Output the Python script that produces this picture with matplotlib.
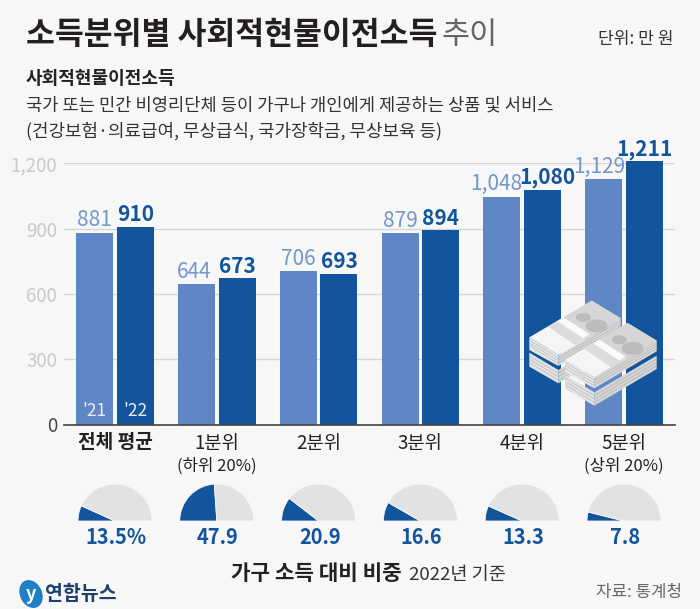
import matplotlib
matplotlib.use("Agg")
import matplotlib.pyplot as plt
from matplotlib.patches import Polygon, Ellipse

plt.rcParams['font.family'] = ['Noto Sans CJK KR', 'DejaVu Sans']

W, H = 700, 609
BG = '#f7f7f7'
C21 = '#5f87c6'
C22 = '#12559d'
GRAY = '#e2e2e2'

groups = ['전체 평균', '1분위', '2분위', '3분위', '4분위', '5분위']
subs = ['', '(하위 20%)', '', '', '', '(상위 20%)']
v21 = [881, 644, 706, 879, 1048, 1129]
v22 = [910, 673, 693, 894, 1080, 1211]
shares = [13.5, 47.9, 20.9, 16.6, 13.3, 7.8]
share_labels = ['13.5%', '47.9', '20.9', '16.6', '13.3', '7.8']
yticks = [0, 300, 600, 900, 1200]

# horizontal nudges of the value labels, in points
nudge21 = [0, -1.5, 0, 0, -4, -3.5]
nudge22 = [0, 0.5, 0, 0, 3.5, 0]

fig = plt.figure(figsize=(W / 100, H / 100), dpi=100, facecolor=BG)


def T(x, y, s, size, color='#222222', weight='regular', ha='left', va='center', **kw):
    return fig.text(x / W, 1 - y / H, s, fontsize=size, color=color, fontweight=weight,
                    ha=ha, va=va, **kw)


# main bars
ax = fig.add_axes([64 / W, 1 - 424.5 / H, (675 - 64) / W, (424.5 - 163.5) / H])
ax.set_facecolor('none')
ax.set_xlim(-0.5, 5.5)
ax.set_ylim(0, 1200)
xs = list(range(6))
ax.bar([x - 0.2 for x in xs], v21, width=0.363, color=C21, zorder=3, clip_on=False)
ax.bar([x + 0.2 for x in xs], v22, width=0.363, color=C22, zorder=3, clip_on=False)
ax.set_yticks(yticks)
ax.set_yticklabels([f'{t:,}' for t in yticks], fontsize=13.5, color='#c9c9c9', fontweight='light')
ax.get_yticklabels()[0].set_color('#444444')
ax.tick_params(axis='y', length=0, pad=5)
ax.tick_params(axis='x', length=0)
ax.set_xticks(xs)
ax.set_xticklabels([])
ax.grid(axis='y', color='#d6d6d6', lw=1, zorder=0)
for sp in ['top', 'left', 'right']:
    ax.spines[sp].set_visible(False)
ax.spines['bottom'].set_color('#444444')
ax.spines['bottom'].set_linewidth(1.2)
ax.spines['bottom'].set_zorder(5)

for x, a, b, na, nb in zip(xs, v21, v22, nudge21, nudge22):
    ax.annotate(f'{a:,}', (x - 0.2, a), xytext=(na, 1), textcoords='offset points', ha='center',
                va='bottom', fontsize=15, color='#7396cb', annotation_clip=False, zorder=6)
    ax.annotate(f'{b:,}', (x + 0.2, b), xytext=(nb, 1), textcoords='offset points', ha='center',
                va='bottom', fontsize=15, color=C22, fontweight='bold', annotation_clip=False, zorder=6)
ax.text(-0.2, 60, "'21", color='#e8eef8', fontsize=12.5, ha='center', va='center', zorder=6)
ax.text(0.2, 60, "'22", color='#e8eef8', fontsize=12.5, ha='center', va='center', zorder=6)

# group labels and half-pies
cx = [115 + 101.8 * i for i in range(6)]
for i, c in enumerate(cx):
    T(c, 443, groups[i], 13.8 if i == 0 else 13.5, weight='bold' if i == 0 else 'regular', ha='center')
    if subs[i]:
        T(c, 466, subs[i], 12, ha='center')
    R = 37
    pax = fig.add_axes([(c - R) / W, 1 - (521 + R) / H, 2 * R / W, 2 * R / H])
    wedges, _ = pax.pie([shares[i], 100 - shares[i], 100], startangle=180, counterclock=False,
                        colors=[C22, GRAY, 'none'], radius=1,
                        wedgeprops=dict(linewidth=0.6, edgecolor=BG))
    wedges[2].set_edgecolor('none')
    pax.set_xlim(-1, 1)
    pax.set_ylim(-1, 1)
    pax.set_zorder(2)
    T(c + 1, 538, share_labels[i], 14.4, color=C22, weight='bold', ha='center')

# overlay for the money icon and the logo
ov = fig.add_axes([0, 0, 1, 1], zorder=10)
ov.set_xlim(0, W)
ov.set_ylim(H, 0)
ov.axis('off')


def z(*pts):
    return [(500 + a / 3, 130 + b / 3) for a, b in pts]


def poly(pts, fc, zo=11):
    ov.add_patch(Polygon(z(*pts), closed=True, fc=fc, ec='none', zorder=zo))


def stack(ox, oy, zo):
    def p(*pts):
        return [(a + ox, b + oy) for a, b in pts]

    def stripes(a, b, n, top, bot, col):
        # thin paper-edge lines along a brick side between points a and b
        for k in range(1, n):
            f = k / n
            pts = z((a[0] + ox, a[1] + oy + top + (bot - top) * f), (b[0] + ox, b[1] + oy + top + (bot - top) * f))
            ov.plot([pts[0][0], pts[1][0]], [pts[0][1], pts[1][1]], color=col, lw=0.5, zorder=zo)

    # lower brick
    poly(p((88, 668), (175, 720), (175, 760), (88, 710)), '#e2e2e2', zo)
    poly(p((175, 720), (362, 610), (362, 650), (175, 760)), '#d4d4d4', zo)
    stripes((88, 668), (175, 720), 4, 0, 40, '#bcbcbc')
    stripes((175, 720), (362, 610), 4, 0, 40, '#b4b4b4')
    # upper brick sides
    poly(p((88, 622), (175, 675), (175, 708), (88, 660)), '#e6e6e6', zo)
    poly(p((175, 675), (362, 565), (362, 597), (175, 708)), '#d8d8d8', zo)
    stripes((88, 622), (175, 675), 4, 0, 34, '#bcbcbc')
    stripes((175, 675), (362, 565), 4, 0, 32, '#b4b4b4')
    # top face
    poly(p((88, 622), (275, 512), (362, 565), (175, 675)), '#f5f5f5', zo)
    poly(p((190, 562), (275, 512), (362, 565), (272, 617)), '#d6d6d6', zo)
    poly(p((145, 590), (190, 562), (272, 617), (225, 645)), '#dcdcdc', zo)
    poly(p((172, 573), (190, 562), (268, 612), (250, 625)), '#fbfbfb', zo)
    ov.add_patch(Ellipse(z((250 + ox, 562 + oy))[0], 15, 9, fc='#bcbcbc', ec='none', zorder=zo))
    ov.add_patch(Ellipse(z((290 + ox, 588 + oy))[0], 22, 13, fc='#bcbcbc', ec='none', zorder=zo))


stack(0, 0, 11)
stack(108, 67, 12)

# logo
ov.add_patch(Ellipse((31, 594), 22, 29, angle=-25, fc='#1f7fc4', ec='none', zorder=11))
ov.text(31, 594, 'y', color='white', fontsize=13, fontweight='bold', style='italic', ha='center',
        va='center', zorder=12)

# text
T(26, 35, '소득분위별 사회적현물이전소득', 22.6, color='#231f20', weight='bold')
T(441, 35, '추이', 22, color='#666666', weight='light')
T(598, 39, '단위: 만 원', 12.3, color='#333333')
T(26, 78, '사회적현물이전소득', 13, color='#222222', weight='bold')
T(26, 105, '국가 또는 민간 비영리단체 등이 가구나 개인에게 제공하는 상품 및 서비스', 12.7, color='#333333')
T(26, 131, '(건강보험·의료급여, 무상급식, 국가장학금, 무상보육 등)', 12.9, color='#333333')
T(231, 574, '가구 소득 대비 비중', 15.3, color='#222222', weight='bold')
T(409, 575, '2022년 기준', 13.4, color='#333333')
T(596, 592, '자료: 통계청', 12.1, color='#666666')
T(45, 594, '연합뉴스', 14, color='#1c3f6e', weight='bold')

fig.savefig('out.png', dpi=100, facecolor=BG)
